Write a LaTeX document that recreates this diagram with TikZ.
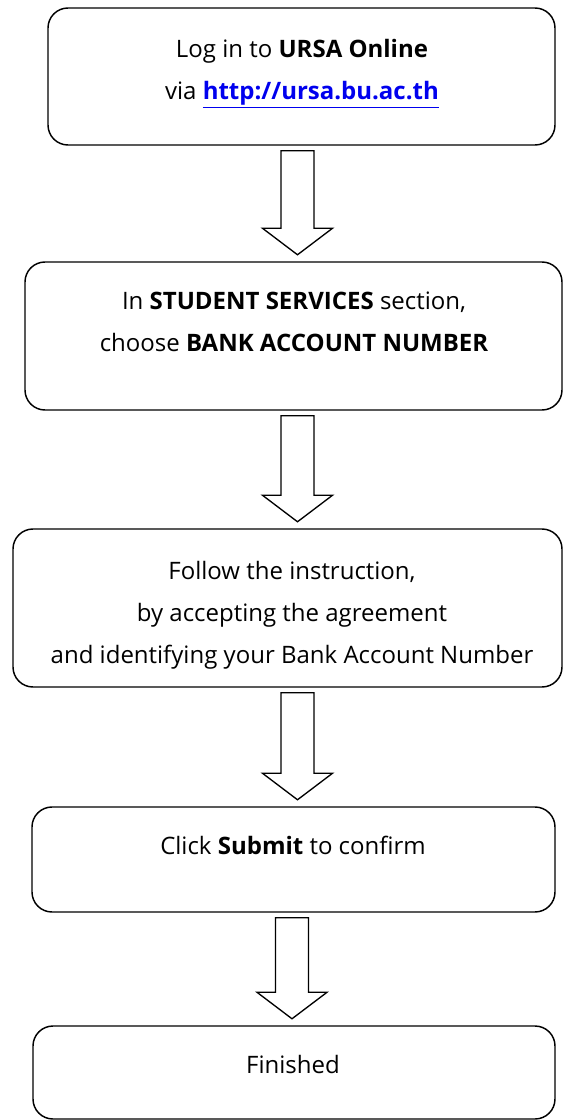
\documentclass[tikz,border=0pt]{standalone}
\usepackage{fontspec}
\setmainfont{Open Sans}
\usetikzlibrary{calc}

\definecolor{linkblue}{RGB}{0,0,238}
\tikzset{every picture/.style={line width=0.75pt}}
\tikzset{
  stepbox/.style={draw, rounded corners=15pt, line width=1.1pt, inner sep=0pt},
  steptext/.style={anchor=base, align=center, inner sep=0.75pt, font=\fontsize{18}{31.5}\selectfont},
  blockarrow/.style={draw, line width=1pt, line join=miter, fill=white}
}
\newcommand{\flowarrow}[3]{%
  \draw[blockarrow] ($(#1.south -| #3)+(-16.5,5)$) -- ($(#2.north -| #3)+(-16.5,-33)$) -- ($(#2.north -| #3)+(-35,-33)$) -- ($(#2.north -| #3)+(0,-6.5)$) -- ($(#2.north -| #3)+(35,-33)$) -- ($(#2.north -| #3)+(16.5,-33)$) -- ($(#1.south -| #3)+(16.5,5)$) -- cycle;}

\begin{document}
\begin{tikzpicture}[x=0.75pt,y=0.75pt,yscale=-1,xscale=1]
\useasboundingbox (0,0) rectangle (563,1120);

%Shape: Rounded Rect [id:login]
\node[stepbox, minimum width=380.25pt, minimum height=102.75pt] (login) at (301.5,76.5) {};
%Shape: Rounded Rect [id:services]
\node[stepbox, minimum width=402.75pt, minimum height=111pt] (services) at (293.5,336) {};
%Shape: Rounded Rect [id:instruction]
\node[stepbox, minimum width=411.75pt, minimum height=118.5pt] (instruction) at (287.5,608) {};
%Shape: Rounded Rect [id:submit]
\node[stepbox, minimum width=392.25pt, minimum height=78.75pt] (submit) at (293.5,859.5) {};
%Shape: Rounded Rect [id:finished]
\node[stepbox, minimum width=391.5pt, minimum height=69.75pt] (finished) at (294,1072.5) {};

%Down Arrows
\coordinate (axis) at (297.5,0);
\coordinate (axisend) at (292,0);
\flowarrow{login}{services}{axis}
\flowarrow{services}{instruction}{axis}
\flowarrow{instruction}{submit}{axis}
\flowarrow{submit}{finished}{axisend}

% Text Node (base = last line)
\node[steptext] (logintext) at (302,100) {Log in to \textbf{URSA Online}\\via \textcolor{linkblue}{\underline{\textbf{http://ursa.bu.ac.th}}}};
% Text Node
\node[steptext] (servicestext) at (294,351) {In \textbf{STUDENT SERVICES} section,\\choose \textbf{BANK ACCOUNT NUMBER}};
% Text Node
\node[steptext] (instructiontext) at (292,663) {Follow the instruction,\\by accepting the agreement\\and identifying your Bank Account Number};
% Text Node
\node[steptext] (submittext) at (293,854) {Click \textbf{Submit} to confirm};
% Text Node
\node[steptext] (finishedtext) at (293,1073) {Finished};

\end{tikzpicture}
\end{document}
